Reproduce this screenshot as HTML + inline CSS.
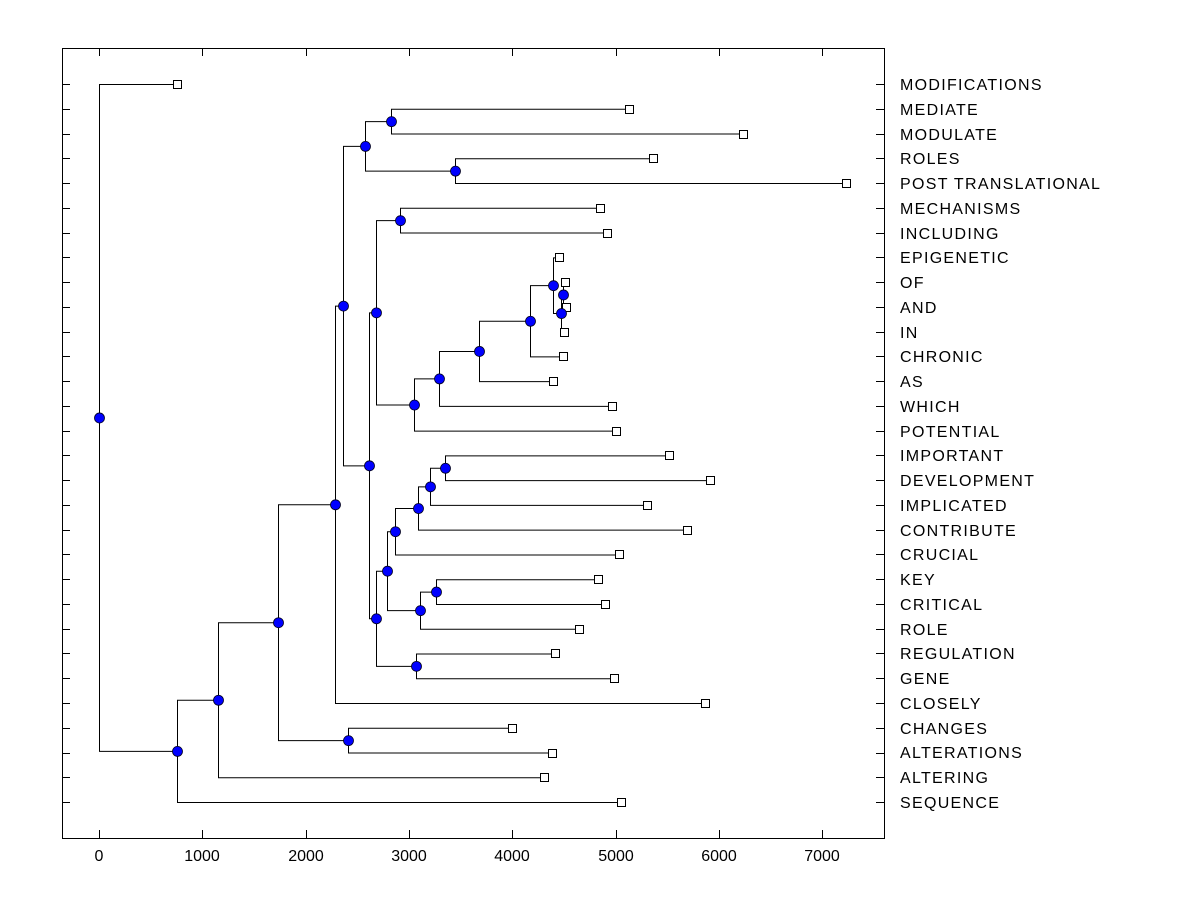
<!DOCTYPE html>
<html><head><meta charset="utf-8"><style>
body{margin:0;background:#fff;}
svg{display:block;font-family:"Liberation Sans",Arial,sans-serif;}
</style></head><body>
<svg id="s" width="1200" height="900" xmlns="http://www.w3.org/2000/svg">
<rect x="62.5" y="48.5" width="822" height="790" fill="none" stroke="#000" stroke-width="1"/>
<g id="ticks" stroke="#000"></g>
<g id="tree" stroke="#000" fill="none"></g>
<g id="marks"></g>
<g font-size="16" fill="#000" text-anchor="middle">
<text x="99" y="861">0</text><text x="202" y="861">1000</text><text x="306" y="861">2000</text><text x="409" y="861">3000</text><text x="512" y="861">4000</text><text x="616" y="861">5000</text><text x="719" y="861">6000</text><text x="822" y="861">7000</text>
</g>
<g font-size="16" fill="#000" id="labels" letter-spacing="1.3">
<text x="900" y="90">MODIFICATIONS</text>
<text x="900" y="115">MEDIATE</text>
<text x="900" y="140">MODULATE</text>
<text x="900" y="164">ROLES</text>
<text x="900" y="189">POST TRANSLATIONAL</text>
<text x="900" y="214">MECHANISMS</text>
<text x="900" y="239">INCLUDING</text>
<text x="900" y="263">EPIGENETIC</text>
<text x="900" y="288">OF</text>
<text x="900" y="313">AND</text>
<text x="900" y="338">IN</text>
<text x="900" y="362">CHRONIC</text>
<text x="900" y="387">AS</text>
<text x="900" y="412">WHICH</text>
<text x="900" y="437">POTENTIAL</text>
<text x="900" y="461">IMPORTANT</text>
<text x="900" y="486">DEVELOPMENT</text>
<text x="900" y="511">IMPLICATED</text>
<text x="900" y="536">CONTRIBUTE</text>
<text x="900" y="560">CRUCIAL</text>
<text x="900" y="585">KEY</text>
<text x="900" y="610">CRITICAL</text>
<text x="900" y="635">ROLE</text>
<text x="900" y="659">REGULATION</text>
<text x="900" y="684">GENE</text>
<text x="900" y="709">CLOSELY</text>
<text x="900" y="734">CHANGES</text>
<text x="900" y="758">ALTERATIONS</text>
<text x="900" y="783">ALTERING</text>
<text x="900" y="808">SEQUENCE</text>
</g>
</svg>
<script>
var NS="http://www.w3.org/2000/svg";
function el(p,t,a){var e=document.createElementNS(NS,t);for(var k in a)e.setAttribute(k,a[k]);p.appendChild(e);return e;}
var ticks=document.getElementById('ticks'),tree=document.getElementById('tree'),marks=document.getElementById('marks');
var leafX=[177,629,743,653,846,600,607,559,565,566,564,563,553,612,616,669,710,647,687,619,598,605,579,555,614,705,512,552,544,621];
function ry(i){return 84+i*24.76;}
for(var i=0;i<30;i++){var y=Math.round(ry(i))+0.5;el(ticks,'line',{x1:62,y1:y,x2:70,y2:y});el(ticks,'line',{x1:876,y1:y,x2:884,y2:y});}
[99,202,306,409,512,616,719,822].forEach(function(x){x+=0.5;el(ticks,'line',{x1:x,y1:48,x2:x,y2:56});el(ticks,'line',{x1:x,y1:830,x2:x,y2:838});});
var N={
root:[99,0,'A'],A:[177,'B',29],B:[218,'C',28],C:[278,'D','E'],E:[348,26,27],
D:[335,'F',25],F:[343,'G','H'],G:[365,'I','J'],I:[391,1,2],J:[455,3,4],
H:[369,'K','L'],K:[376,'M','Nn'],M:[400,5,6],Nn:[414,'O',14],O:[439,'P',13],
P:[479,'Q',12],Q:[530,'R',11],R:[553,7,'T'],T:[561,'S',10],S:[563,8,9],
L:[376,'U','V'],V:[416,23,24],U:[387,'W','X'],X:[420,'Y',22],Y:[436,20,21],
W:[395,'Z',19],Z:[418,'AA',18],AA:[430,'AB',17],AB:[445,15,16]};
var circles=[],squares=[];
function lay(c){
 if(typeof c==='number'){squares.push([leafX[c],ry(c)]);return [leafX[c],ry(c)];}
 var n=N[c],a=lay(n[1]),b=lay(n[2]),x=n[0];
 var d='M'+a[0]+' '+(a[1]+0.5)+'H'+(x+0.5)+'V'+(b[1]+0.5)+'H'+b[0];
 el(tree,'path',{d:d});
 var y=(a[1]+b[1])/2;circles.push([x,y]);return [x,y];
}
lay('root');
squares.forEach(function(p){el(marks,'rect',{x:p[0]-3.5,y:Math.round(p[1])-3.5,width:8,height:8,fill:'#fff',stroke:'#000'});});
circles.forEach(function(p){el(marks,'circle',{cx:p[0]+0.5,cy:p[1]+0.5,r:5,fill:'#0000ff',stroke:'#000020','stroke-width':0.8});});
</script>
</body></html>
